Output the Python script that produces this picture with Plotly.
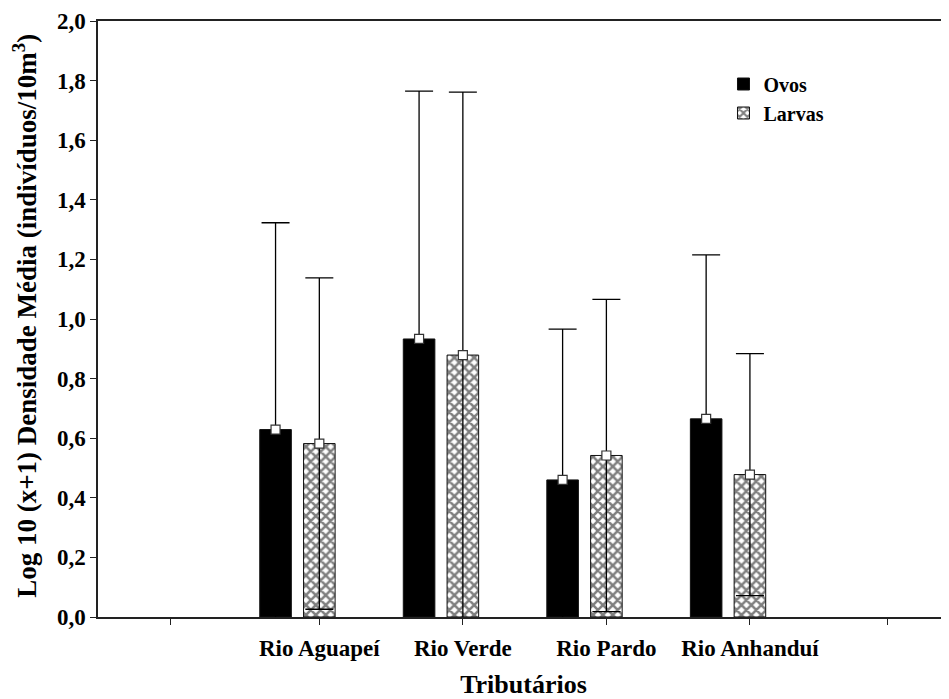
import numpy as np
import plotly.graph_objects as go

categories = ["Rio Aguapeí", "Rio Verde", "Rio Pardo", "Rio Anhanduí"]
ovos_mean = [0.629, 0.933, 0.460, 0.665]
ovos_err = [0.694, 0.832, 0.506, 0.550]
larvas_mean = [0.582, 0.879, 0.542, 0.478]
larvas_err = [0.556, 0.882, 0.524, 0.406]
y_ticks = [0.0, 0.2, 0.4, 0.6, 0.8, 1.0, 1.2, 1.4, 1.6, 1.8, 2.0]

FONT = "Liberation Serif"
slots = np.arange(1, len(categories) + 1)
bw = 0.22
ovos_off = -0.265
larvas_off = 0.04

fig = go.Figure()
err_style = dict(type="data", symmetric=True, color="#000000", thickness=1.3, width=14)

fig.add_trace(go.Bar(
    x=slots, y=ovos_mean, name="Ovos", width=bw, offset=ovos_off - bw / 2,
    marker=dict(color="black", line=dict(color="#111111", width=1)),
    error_y=dict(array=ovos_err, **err_style),
))
fig.add_trace(go.Bar(
    x=slots, y=larvas_mean, name="Larvas", width=bw, offset=larvas_off - bw / 2,
    marker=dict(color="white", line=dict(color="#111111", width=1),
                pattern=dict(shape="x", size=7, solidity=0.6, fgcolor="black", bgcolor="white")),
    error_y=dict(array=larvas_err, **err_style),
))
# mean markers (white squares)
fig.add_trace(go.Scatter(
    x=np.concatenate([slots + ovos_off, slots + larvas_off]),
    y=ovos_mean + larvas_mean, mode="markers", showlegend=False, hoverinfo="skip",
    marker=dict(symbol="square", size=9, color="white", line=dict(color="#333333", width=1.2)),
))

fig.add_annotation(
    text="Log 10 (x+1) Densidade Média (indivíduos/10m<sup>3</sup>)",
    xref="paper", yref="paper", x=-0.086, y=0.505, xanchor="center", yanchor="middle",
    textangle=-90, showarrow=False, font=dict(family=FONT, size=27, weight="bold", color="black"),
)

fig.update_layout(
    width=941, height=691,
    margin=dict(l=90, r=0, t=13, b=82, autoexpand=False),
    paper_bgcolor="white", plot_bgcolor="white",
    barmode="overlay",
    font=dict(family=FONT, color="black"),
    showlegend=True,
    legend=dict(x=0.735, y=0.927, xanchor="left", yanchor="top",
                bgcolor="rgba(0,0,0,0)", font=dict(family=FONT, size=20, weight="bold"),
                itemwidth=30, tracegroupgap=0),
    xaxis=dict(
        range=[-0.502, 5.427], tickmode="array", tickvals=list(slots + larvas_off),
        ticktext=categories, automargin=False, ticklabelstandoff=4,
        showgrid=False, zeroline=False, showline=True, linecolor="#222222", linewidth=1.5,
        mirror=True, ticks="outside", ticklen=6, tickcolor="#222222", tickwidth=1,
        minor=dict(tickmode="array", tickvals=[0, len(categories) + 1], ticks="outside",
                   ticklen=6, tickcolor="#222222", tickwidth=1, showgrid=False),
        tickfont=dict(family=FONT, size=23, weight="bold"),
        title=dict(text="Tributários", font=dict(family=FONT, size=26, weight="bold"), standoff=15),
    ),
    yaxis=dict(
        range=[0, 2.0], tickmode="array", tickvals=y_ticks,
        ticktext=[f"{v:.1f}".replace(".", ",") for v in y_ticks], automargin=False,
        showgrid=False, zeroline=False, showline=True, linecolor="#222222", linewidth=1.5,
        ticks="outside", ticklen=6, tickcolor="#222222", tickwidth=1,
        tickfont=dict(family=FONT, size=23, weight="bold"),
    ),
)

fig.write_html("out.html")
